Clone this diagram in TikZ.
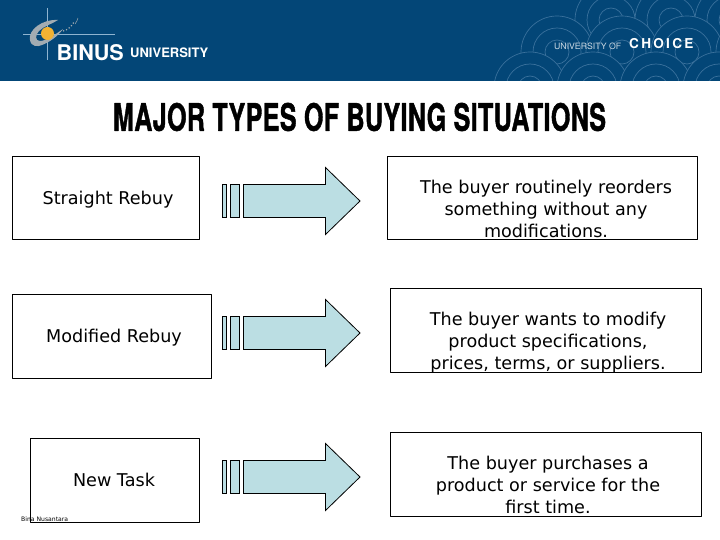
\documentclass[tikz,border=0pt]{standalone}
\usepackage{fontspec}
\setmainfont{DejaVu Sans}
\newfontfamily\heavyfont{TeX Gyre Heros}
\newfontfamily\titlefont[FakeBold=1.5,LetterSpace=1.5]{TeX Gyre Heros Bold}
\definecolor{binusblue}{HTML}{034677}
\definecolor{scalelinecol}{HTML}{3A719C}
\definecolor{crosscol}{HTML}{8FB4D0}
\definecolor{arrowcol}{HTML}{BBDEE3}
\definecolor{ringcol}{HTML}{A3ACB2}
\definecolor{suncol}{HTML}{F2B233}
\tikzset{
	boxstyle/.style={draw=black,line width=.8pt,inner sep=0pt},
	textstyle/.style={align=center,font=\fontsize{17.6}{22}\selectfont,inner sep=0pt},
	arrowstyle/.style={draw=black,fill=arrowcol,line width=.8pt,line join=miter}
}
\begin{document}
\begin{tikzpicture}[x=1pt,y=-1pt,line join=round]
	\useasboundingbox (0,0) rectangle (720,540);
	%========================
	\fill[binusblue] (0,0) rectangle (720,81);
	\begin{scope}
		\clip (480,0) rectangle (720,81);
		\foreach \cy/\cx in {20/611,20/671,20/731,52/557,52/622,52/687,52/752,88/530,88/593,88/656,88/719}{
			\fill[binusblue] (\cx,\cy) circle (36);
			\foreach \r in {12,24,36}
				\draw[scalelinecol,line width=.7pt] (\cx,\cy) circle (\r);
		}
	\end{scope}
	%========================
	\draw[crosscol,line width=.6pt] (47.5,8) -- (47.5,60);
	\draw[crosscol,line width=.6pt] (23,34) -- (115,34);
	\fill[ringcol] (58,20) .. controls (42,19) and (28,30) .. (30,40) .. controls (31,47) and (38,47) .. (42,45) .. controls (50,42) and (58,36) .. (63,29) .. controls (56,34) and (46,41) .. (40,41) .. controls (35,41) and (35,35) .. (39,31) .. controls (44,26) and (52,24) .. (58,20) -- cycle;
	\draw[ringcol,line width=1.2pt,dotted] (63,31) .. controls (68,30) and (72,26) .. (74,22);
	\draw[ringcol,line width=.5pt] (75,24) .. controls (77,22) and (77,20) .. (78,18);
	\fill[suncol] (47.5,33.5) circle (6.5);
	\node[inner sep=0pt,text=white,anchor=west] (binus) at (56.5,52.5) {\heavyfont\bfseries\fontsize{21.6}{22}\selectfont BINUS};
	\node[inner sep=0pt,text=white,anchor=west] (univ) at (130,52.5) {\heavyfont\bfseries\fontsize{13}{13}\selectfont UNIVERSITY};
	\node[inner sep=0pt,text=white!80!binusblue,anchor=west] (univof) at (554,46.5) {\heavyfont\fontsize{8.7}{9}\selectfont UNIVERSITY OF};
	\node[inner sep=0pt,text=white,anchor=west] (choice) at (629,44) {\heavyfont\bfseries\fontsize{13.6}{14}\selectfont C\,H\,O\,I\,C\,E};
	%========================
	\node[inner sep=0pt] (title) at (359.5,117) {\resizebox{493pt}{!}{\titlefont\fontsize{38}{38}\selectfont\scalebox{.665}[1]{MAJOR TYPES OF BUYING SITUATIONS}}};
	%========================
	\node[boxstyle,minimum width=187,minimum height=83] (straightbox) at (105.5,197.5) {};
	\node[boxstyle,minimum width=199,minimum height=84] (modifiedbox) at (111.5,336) {};
	\node[boxstyle,minimum width=169,minimum height=84] (newbox) at (114.5,480) {};
	\node[boxstyle,minimum width=310,minimum height=83] (straightdesc) at (542,197.5) {};
	\node[boxstyle,minimum width=311,minimum height=84] (modifieddesc) at (545.5,330) {};
	\node[boxstyle,minimum width=311,minimum height=84] (newdesc) at (545.5,474) {};
	%========================
	\node[textstyle] (straightlabel) at (108,200) {Straight Rebuy};
	\node[textstyle] (modifiedlabel) at (114,338) {Modified Rebuy};
	\node[textstyle] (newlabel) at (114,480) {New Task};
	\node[textstyle] (straighttext) at (546,209) {The buyer routinely reorders\\something without any\\modifications.};
	\node[textstyle] (modifiedtext) at (548,343) {The buyer wants to modify\\product specifications,\\prices, terms, or suppliers.};
	\node[textstyle] (newtext) at (548,485) {The buyer purchases a\\product or service for the\\first time.};
	%========================
	\foreach \y in {201,333,477}{
		\draw[arrowstyle] (222,\y-16.5) rectangle (226.5,\y+16.5);
		\draw[arrowstyle] (230,\y-16.5) rectangle (239.5,\y+16.5);
		\draw[arrowstyle] (243.5,\y-16.5) -- (325.5,\y-16.5) -- (325.5,\y-33.5) -- (360,\y) -- (325.5,\y+33.5) -- (325.5,\y+16.5) -- (243.5,\y+16.5) -- cycle;
	}
	%========================
	\node[inner sep=0pt,anchor=west] (footer) at (21,519) {\fontsize{6.1}{7}\selectfont Bina Nusantara};
	%========================
\end{tikzpicture}
\end{document}
